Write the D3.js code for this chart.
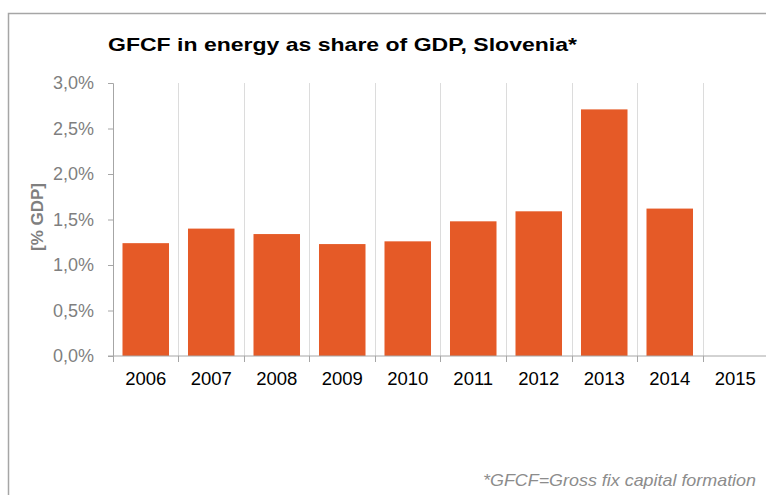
<!DOCTYPE html>
<meta charset="utf-8">
<style>
  body { margin: 0; background: #fff; }
  svg { font-family: "Liberation Sans", Arial, sans-serif; }
  .title { font-size: 19px; font-weight: bold; fill: #000; }
  .ylab { font-size: 17px; font-weight: bold; fill: #7f7f7f; }
  .y-axis text { font-size: 18px; fill: #7f7f7f; }
  .x-axis text { font-size: 18.5px; fill: #000; }
  .note { font-size: 17px; font-style: italic; fill: #8c8c8c; }
</style>
<svg width="766" height="495"></svg>
<script src="https://d3js.org/d3.v7.min.js"></script>
<script>

var years = ["2006", "2007", "2008", "2009", "2010", "2011", "2012", "2013", "2014", "2015"];
var shares = [1.24, 1.40, 1.34, 1.23, 1.26, 1.48, 1.59, 2.71, 1.62, null];
var yTicks = [0, 0.5, 1.0, 1.5, 2.0, 2.5, 3.0];

var svg = d3.select("svg"),
  margin = {top: 83, left: 113, bottom: 139},
  height = +svg.attr("height");

var locale = d3.formatLocale({decimal: ",", thousands: ".", grouping: [3], currency: ["", "€"]});
var fmt = locale.format(".1f");

// frame round the whole chart
svg.append("rect")
  .attr("x", 8.5).attr("y", 13.5)
  .attr("width", 800).attr("height", 520)
  .attr("fill", "none")
  .attr("stroke", "#a6a6a6")
  .attr("stroke-width", 1.5);

svg.append("text")
  .attr("class", "title")
  .attr("x", 108).attr("y", 51)
  .attr("textLength", 469)
  .attr("lengthAdjust", "spacingAndGlyphs")
  .text("GFCF in energy as share of GDP, Slovenia*");

var x = d3.scaleBand()
  .domain(years)
  .range([margin.left, 768])
  .paddingInner(0.29)
  .paddingOuter(0.145);

var y = d3.scaleLinear()
  .domain([0, 3])
  .range([height - margin.bottom, margin.top]);

var step = x.step();
function border(d) { return Math.round(x(d) - x.paddingInner() * step / 2) + 0.5; }

// vertical grid lines at category borders
svg.append("g")
  .selectAll("line")
  .data(years.slice(1))
  .enter().append("line")
  .attr("x1", border)
  .attr("x2", border)
  .attr("y1", y(3))
  .attr("y2", y(0))
  .attr("stroke", "#dcdcdc");

svg.append("g")
  .selectAll("rect")
  .data(years.map(function(d, i) { return {year: d, value: shares[i]}; }).filter(function(d) { return d.value != null; }))
  .enter().append("rect")
  .attr("x", function(d) { return x(d.year); })
  .attr("width", x.bandwidth())
  .attr("y", function(d) { return y(d.value); })
  .attr("height", function(d) { return y(0) - y(d.value); })
  .attr("fill", "#e55a27");

var yAxis = svg.append("g")
  .attr("class", "y-axis")
  .attr("transform", "translate(" + margin.left + ",0)")
  .call(d3.axisLeft(y).tickValues(yTicks).tickSize(5).tickPadding(14)
    .tickFormat(function(d) { return fmt(d) + "%"; }));
yAxis.select(".domain").attr("stroke", "#a6a6a6");
yAxis.selectAll(".tick line").attr("stroke", "#a6a6a6");

// x axis: baseline with ticks at category borders
var xg = svg.append("g")
  .attr("class", "x-axis")
  .attr("transform", "translate(0," + y(0) + ")");
xg.append("line")
  .attr("x1", margin.left - 5).attr("x2", 766)
  .attr("stroke", "#a6a6a6");
xg.selectAll(".btick")
  .data(years)
  .enter().append("line")
  .attr("x1", border)
  .attr("x2", border)
  .attr("y1", 0).attr("y2", 6)
  .attr("stroke", "#a6a6a6");
xg.selectAll("text")
  .data(years)
  .enter().append("text")
  .attr("x", function(d) { return x(d) + x.bandwidth() / 2; })
  .attr("y", 29)
  .attr("text-anchor", "middle")
  .text(function(d) { return d; });

svg.append("text")
  .attr("class", "ylab")
  .attr("transform", "translate(43,217) rotate(-90)")
  .attr("text-anchor", "middle")
  .text("[% GDP]");

svg.append("text")
  .attr("class", "note")
  .attr("x", 483).attr("y", 486)
  .attr("textLength", 273)
  .attr("lengthAdjust", "spacingAndGlyphs")
  .text("*GFCF=Gross fix capital formation");

</script>
